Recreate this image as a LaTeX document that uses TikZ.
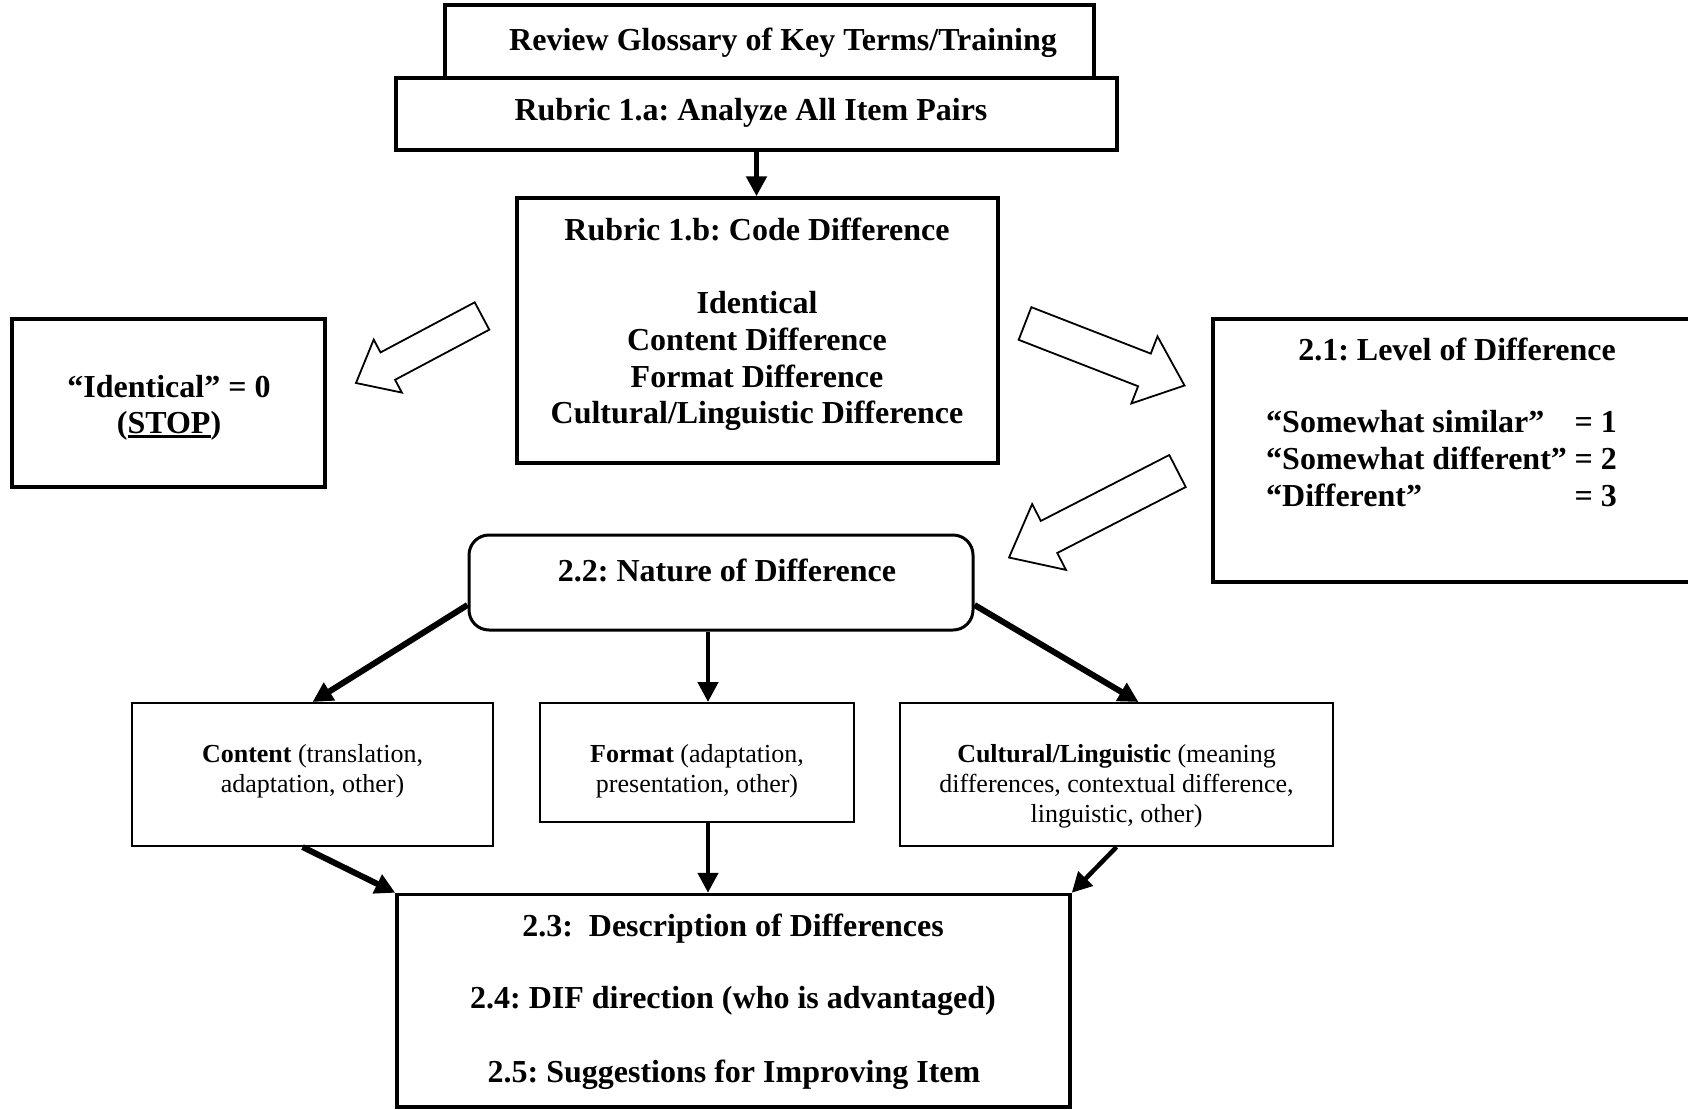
\documentclass[tikz,border=0pt]{standalone}
\usepackage{fontspec}
\setmainfont{Liberation Serif}
\usetikzlibrary{arrows.meta,calc}
\frenchspacing
\newcommand\myul[1]{\setbox0\hbox{#1}\rlap{\rule[-5pt]{\wd0}{2.6pt}}\box0}
\newcommand\hollowarr[5]{%
  \coordinate (hb) at ($(#2)!#5pt!(#1)$);
  \filldraw[hollow] ($(#1)!#3pt!90:(#2)$) -- ($(hb)!#3pt!90:(#2)$) -- ($(hb)!#4pt!90:(#2)$) -- (#2)
     -- ($(hb)!#4pt!-90:(#2)$) -- ($(hb)!#3pt!-90:(#2)$) -- ($(#1)!#3pt!-90:(#2)$) -- cycle;
}
\tikzset{
  bigbox/.style={draw, line width=3.5pt, inner sep=0pt, rectangle, fill=white},
  smallbox/.style={draw, line width=2pt, inner sep=0pt, rectangle, fill=white},
  bigtxt/.style={inner sep=0pt, anchor=base, font=\frenchspacing\fontsize{32}{37}\selectfont\bfseries},
  smalltxt/.style={inner sep=0pt, anchor=base, font=\frenchspacing\fontsize{26}{30}\selectfont},
  conn/.style={line width=#1, -{Triangle[length=20pt,width=20pt]}},
  conn/.default=5pt,
  hollow/.style={draw=black, fill=white, line width=1.8pt, line join=miter},
}
\begin{document}
\begin{tikzpicture}[x=1pt,y=-1pt]
\useasboundingbox (0,0) rectangle (1688,1109);
\clip (0,0) rectangle (1688,1109);
\fill[white] (0,0) rectangle (1688,1109);

% boxes
\node[bigbox, minimum width=649pt, minimum height=73pt] (rev) at (769.5,41.5) {};
\node[bigbox, minimum width=721pt, minimum height=72pt] (r1a) at (756.5,114) {};
\node[bigbox, minimum width=481pt, minimum height=265pt] (r1b) at (757.5,330.5) {};
\node[bigbox, minimum width=313pt, minimum height=168pt] (ident) at (168.5,403) {};
\node[bigbox, minimum width=497pt, minimum height=263pt] (lvl) at (1461.5,450.5) {};
\node[bigbox, line width=3pt, rounded corners=20pt, minimum width=504pt, minimum height=95pt] (nat) at (721,582.5) {};
\node[smallbox, minimum width=361pt, minimum height=143pt] (cont) at (312.5,774.5) {};
\node[smallbox, minimum width=314pt, minimum height=119pt] (form) at (697,762.5) {};
\node[smallbox, minimum width=433pt, minimum height=143pt] (cult) at (1116.5,774.5) {};
\node[bigbox, minimum width=673pt, minimum height=212.5pt] (desc) at (733.5,1000.75) {};

% texts
\node[bigtxt] (trev) at (783,50) {Review Glossary of Key Terms/Training};
\node[bigtxt] (tr1a) at (751,120) {Rubric 1.a: Analyze All Item Pairs};
\node[bigtxt] (tr1b) at (757,240) {Rubric 1.b: Code Difference};
\node[bigtxt] (tid) at (757,313) {Identical};
\node[bigtxt] (tcd) at (757,350) {Content Difference};
\node[bigtxt] (tfd) at (757,387) {Format Difference};
\node[bigtxt] (tcl) at (757,423) {Cultural/Linguistic Difference};
\node[bigtxt] (tzero) at (169,397) {“Identical” = 0};
\node[bigtxt] (tstop) at (169,433) {(\myul{STOP})};
\node[bigtxt] (tlvl) at (1457,360) {2.1: Level of Difference};
\node[bigtxt, anchor=base west] (ts1) at (1266,432) {“Somewhat similar”};
\node[bigtxt, anchor=base east] (tv1) at (1617,432) {= 1};
\node[bigtxt, anchor=base west] (ts2) at (1266,469) {“Somewhat different”};
\node[bigtxt, anchor=base east] (tv2) at (1617,469) {= 2};
\node[bigtxt, anchor=base west] (ts3) at (1266,506) {“Different”};
\node[bigtxt, anchor=base east] (tv3) at (1617,506) {= 3};
\node[bigtxt] (tnat) at (727,581) {2.2: Nature of Difference};
\node[smalltxt] (tc1) at (312.5,762) {\textbf{Content} (translation,};
\node[smalltxt] (tc2) at (312.5,792) {adaptation, other)};
\node[smalltxt] (tf1) at (697,762) {\textbf{Format} (adaptation,};
\node[smalltxt] (tf2) at (697,792) {presentation, other)};
\node[smalltxt] (tu1) at (1116.5,762) {\textbf{Cultural/Linguistic} (meaning};
\node[smalltxt] (tu2) at (1116.5,792) {differences, contextual difference,};
\node[smalltxt] (tu3) at (1116.5,822) {linguistic, other)};
\node[bigtxt] (td1) at (733,936) {2.3:~~Description of Differences};
\node[bigtxt] (td2) at (733,1008) {2.4: DIF direction (who is advantaged)};
\node[bigtxt] (td3) at (734,1082) {2.5: Suggestions for Improving Item};

% connectors
\draw[conn=5pt] (r1a.south) -- (r1a.south |- r1b.north);
\draw[conn=6pt] ([yshift=-22.5pt]nat.west) -- (cont.north);
\draw[conn=4.5pt] ([xshift=-13pt]nat.south) -- ([xshift=-13pt]nat.south |- form.north);
\draw[conn=6pt] ([yshift=-22.5pt]nat.east) -- ([xshift=22pt]cult.north);
\draw[conn=6pt] ([xshift=-10pt]cont.south) -- (desc.north west);
\draw[conn=4.5pt] ([xshift=11pt]form.south) -- ([xshift=11pt]form.south |- desc.north);
\draw[conn=4.5pt] (cult.south) -- (desc.north east);

% hollow block arrows
\coordinate (laT) at (482,316);
\coordinate (laP) at (356,383);
\hollowarr{laT}{laP}{15.5}{30}{36}
\coordinate (raT) at (1025,323.5);
\coordinate (raP) at (1184.5,385.5);
\hollowarr{raT}{raP}{17.5}{36}{43}
\coordinate (daT) at (1177.5,471);
\coordinate (daP) at (1009,557.5);
\hollowarr{daT}{daP}{18}{37}{45}
\end{tikzpicture}
\end{document}
